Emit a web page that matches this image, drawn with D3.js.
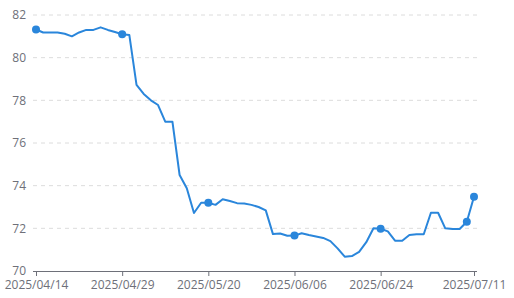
<!DOCTYPE html>
<html><head><meta charset="utf-8">
<script src="https://cdn.jsdelivr.net/npm/d3@7"></script>
<style>html,body{margin:0;padding:0;background:#fff;}svg{display:block;font-family:"Open Sans","Noto Sans",sans-serif;}</style>
</head><body><svg id="c" width="514" height="298"></svg>
<script>
const dates = ["2025/04/14","2025/04/15","2025/04/16","2025/04/17","2025/04/18","2025/04/21","2025/04/22","2025/04/23","2025/04/24","2025/04/25","2025/04/27","2025/04/28","2025/04/29",
"2025/04/30","2025/05/06","2025/05/07","2025/05/08","2025/05/09","2025/05/12","2025/05/13","2025/05/14","2025/05/15","2025/05/16","2025/05/19","2025/05/20",
"2025/05/21","2025/05/22","2025/05/23","2025/05/26","2025/05/27","2025/05/28","2025/05/29","2025/05/30","2025/06/03","2025/06/04","2025/06/05","2025/06/06",
"2025/06/09","2025/06/10","2025/06/11","2025/06/12","2025/06/13","2025/06/16","2025/06/17","2025/06/18","2025/06/19","2025/06/20","2025/06/23","2025/06/24",
"2025/06/25","2025/06/26","2025/06/27","2025/06/30","2025/07/01","2025/07/02","2025/07/03","2025/07/04","2025/07/07","2025/07/08","2025/07/09","2025/07/10","2025/07/11"];
const values = [81.32,81.18,81.18,81.18,81.12,81.0,81.18,81.3,81.3,81.42,81.3,81.2,81.1,
81.06,78.72,78.3,78.0,77.78,77.0,77.0,74.5,73.88,72.72,73.2,73.2,
73.1,73.36,73.28,73.18,73.16,73.1,73.0,72.84,71.73,71.76,71.65,71.66,
71.77,71.69,71.62,71.55,71.4,71.06,70.67,70.7,70.9,71.35,72.0,71.98,
71.86,71.42,71.42,71.69,71.72,71.72,72.73,72.73,72.0,71.97,71.97,72.31,73.48];
const tickLabels = ["2025/04/14","2025/04/29","2025/05/20","2025/06/06","2025/06/24","2025/07/11"];
const markerDates = ["2025/04/14","2025/04/29","2025/05/20","2025/06/06","2025/06/24","2025/07/10","2025/07/11"];
const yTicks = [70,72,74,76,78,80,82];

const svg = d3.select("#c");
const gridL = 33, gridR = 477;
const x = d3.scalePoint().domain(dates).range([36, 474]);
const y = d3.scaleLinear().domain([70, 82]).range([271, 15]);
const color = "#2a86db";

// gridlines
svg.append("g").selectAll("line").data(yTicks.filter(v => v !== 70)).join("line")
  .attr("x1", gridL).attr("x2", gridR)
  .attr("y1", d => y(d)).attr("y2", d => y(d))
  .attr("stroke", "#dcdcdc").attr("stroke-dasharray", "4,4").attr("stroke-width", 1);

// y labels
svg.append("g").selectAll("text").data(yTicks).join("text")
  .attr("x", 26).attr("y", d => y(d)).attr("dy", "0.35em")
  .attr("text-anchor", "end").attr("font-size", 12).attr("fill", "#6e7079")
  .text(d => d);

// x axis
const xAxis = d3.axisBottom(x).tickValues(tickLabels).tickSize(5).tickPadding(4).tickSizeOuter(0);
const gx = svg.append("g").attr("transform", "translate(0,271)").call(xAxis);
gx.select(".domain").attr("d", `M${gridL},0.5H${gridR}`).attr("stroke", "#6e7079");
gx.selectAll(".tick line").attr("stroke", "#6e7079");
gx.selectAll(".tick text").attr("font-size", 12).attr("fill", "#6e7079").attr("font-family", '"Open Sans","Noto Sans",sans-serif');

// line
const line = d3.line().x((d, i) => x(dates[i])).y(d => y(d));
svg.append("path").datum(values).attr("d", line)
  .attr("fill", "none").attr("stroke", color).attr("stroke-width", 2).attr("stroke-linejoin", "round");

// markers
svg.append("g").selectAll("circle").data(markerDates).join("circle")
  .attr("cx", d => x(d)).attr("cy", d => y(values[dates.indexOf(d)]))
  .attr("r", 4).attr("fill", color);
</script></body></html>
